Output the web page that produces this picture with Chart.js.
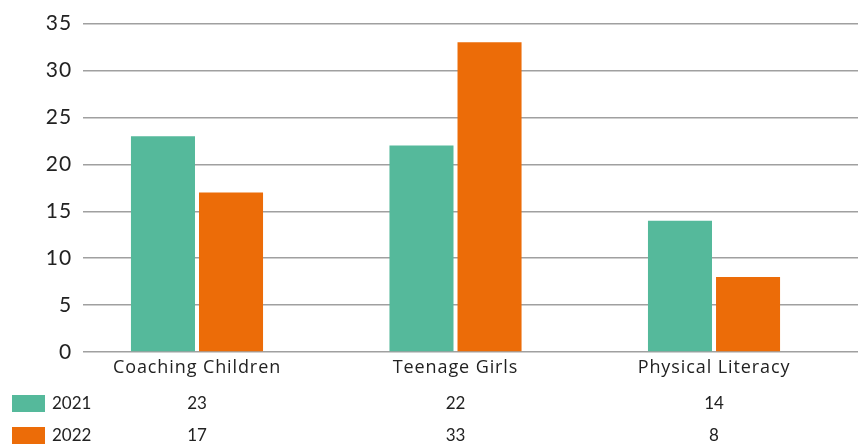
<!DOCTYPE html>
<html>
<head>
<meta charset="utf-8">
<script src="https://cdn.jsdelivr.net/npm/chart.js@4"></script>
<style>
  html, body { margin: 0; padding: 0; background: #fff; }
  #wrap { width: 858px; height: 446px; }
</style>
</head>
<body>
<div id="wrap"><canvas id="c" width="858" height="446"></canvas></div>
<script>
const categories = ['Coaching Children', 'Teenage Girls', 'Physical Literacy'];
const seriesNames = ['2021', '2022'];
const values2021 = [23, 22, 14];
const values2022 = [17, 33, 8];
const yTicks = [0, 5, 10, 15, 20, 25, 30, 35];

const colors = ['#55b99b', '#ec6c08'];
const FONT = 'Lato, "Open Sans", sans-serif';
const CAT_FONT = '"Open Sans", Lato, sans-serif';
const TEXT = '#222222';

// slightly wider tracking for axis labels
const tracking = {
  id: 'tracking',
  beforeDraw(chart) { chart.ctx.letterSpacing = '0.9px'; }
};

// data table with legend keys, drawn under the category axis
const dataTable = {
  id: 'dataTable',
  afterDraw(chart) {
    const ctx = chart.ctx;
    const x = chart.scales.x;
    const rowsY = [404, 436];
    ctx.save();
    ctx.letterSpacing = '0px';
    ctx.font = '17px ' + FONT;
    ctx.fillStyle = TEXT;
    ctx.textBaseline = 'middle';
    chart.data.datasets.forEach((ds, i) => {
      const y = rowsY[i];
      ctx.fillStyle = ds.backgroundColor;
      ctx.fillRect(12, y - 9, 33, 17);
      ctx.fillStyle = TEXT;
      ctx.textAlign = 'left';
      ctx.fillText(ds.label, 52, y);
      ctx.textAlign = 'center';
      ds.data.forEach((d) => ctx.fillText(String(d.y), x.getPixelForValue(d.x), y));
    });
    ctx.restore();
  }
};

const toPoints = (arr) => arr.map((v, i) => ({ x: i, y: v }));

new Chart(document.getElementById('c'), {
  type: 'bar',
  data: {
    datasets: [
      { label: seriesNames[0], data: toPoints(values2021), backgroundColor: colors[0] },
      { label: seriesNames[1], data: toPoints(values2022), backgroundColor: colors[1] }
    ]
  },
  options: {
    responsive: false,
    animation: false,
    devicePixelRatio: 1,
    layout: { padding: { top: 23, right: 0, bottom: 60, left: 0 } },
    datasets: { bar: { categoryPercentage: 0.5265, barPercentage: 0.941 } },
    plugins: { legend: { display: false }, tooltip: { enabled: false } },
    scales: {
      x: {
        type: 'linear',
        offset: false,
        bounds: 'data',
        min: -0.441,
        max: 2.557,
        grid: { display: false, drawTicks: false, offset: false },
        border: { display: false },
        afterBuildTicks(scale) { scale.ticks = categories.map((_, i) => ({ value: i })); },
        afterFit(scale) { scale.height = 34; },
        ticks: {
          autoSkip: false,
          maxRotation: 0,
          padding: 5,
          color: TEXT,
          font: { family: CAT_FONT, size: 18 },
          callback: (v) => categories[v]
        }
      },
      y: {
        min: 0,
        max: 35,
        afterBuildTicks(scale) { scale.ticks = yTicks.map((v) => ({ value: v })); },
        afterFit(scale) { scale.width = 83; },
        grid: { color: '#a0a0a0', lineWidth: 1.4, drawTicks: false },
        border: { display: false },
        ticks: {
          padding: 11,
          color: TEXT,
          font: { family: FONT, size: 21 }
        }
      }
    }
  },
  plugins: [tracking, dataTable]
});
</script>
</body>
</html>
